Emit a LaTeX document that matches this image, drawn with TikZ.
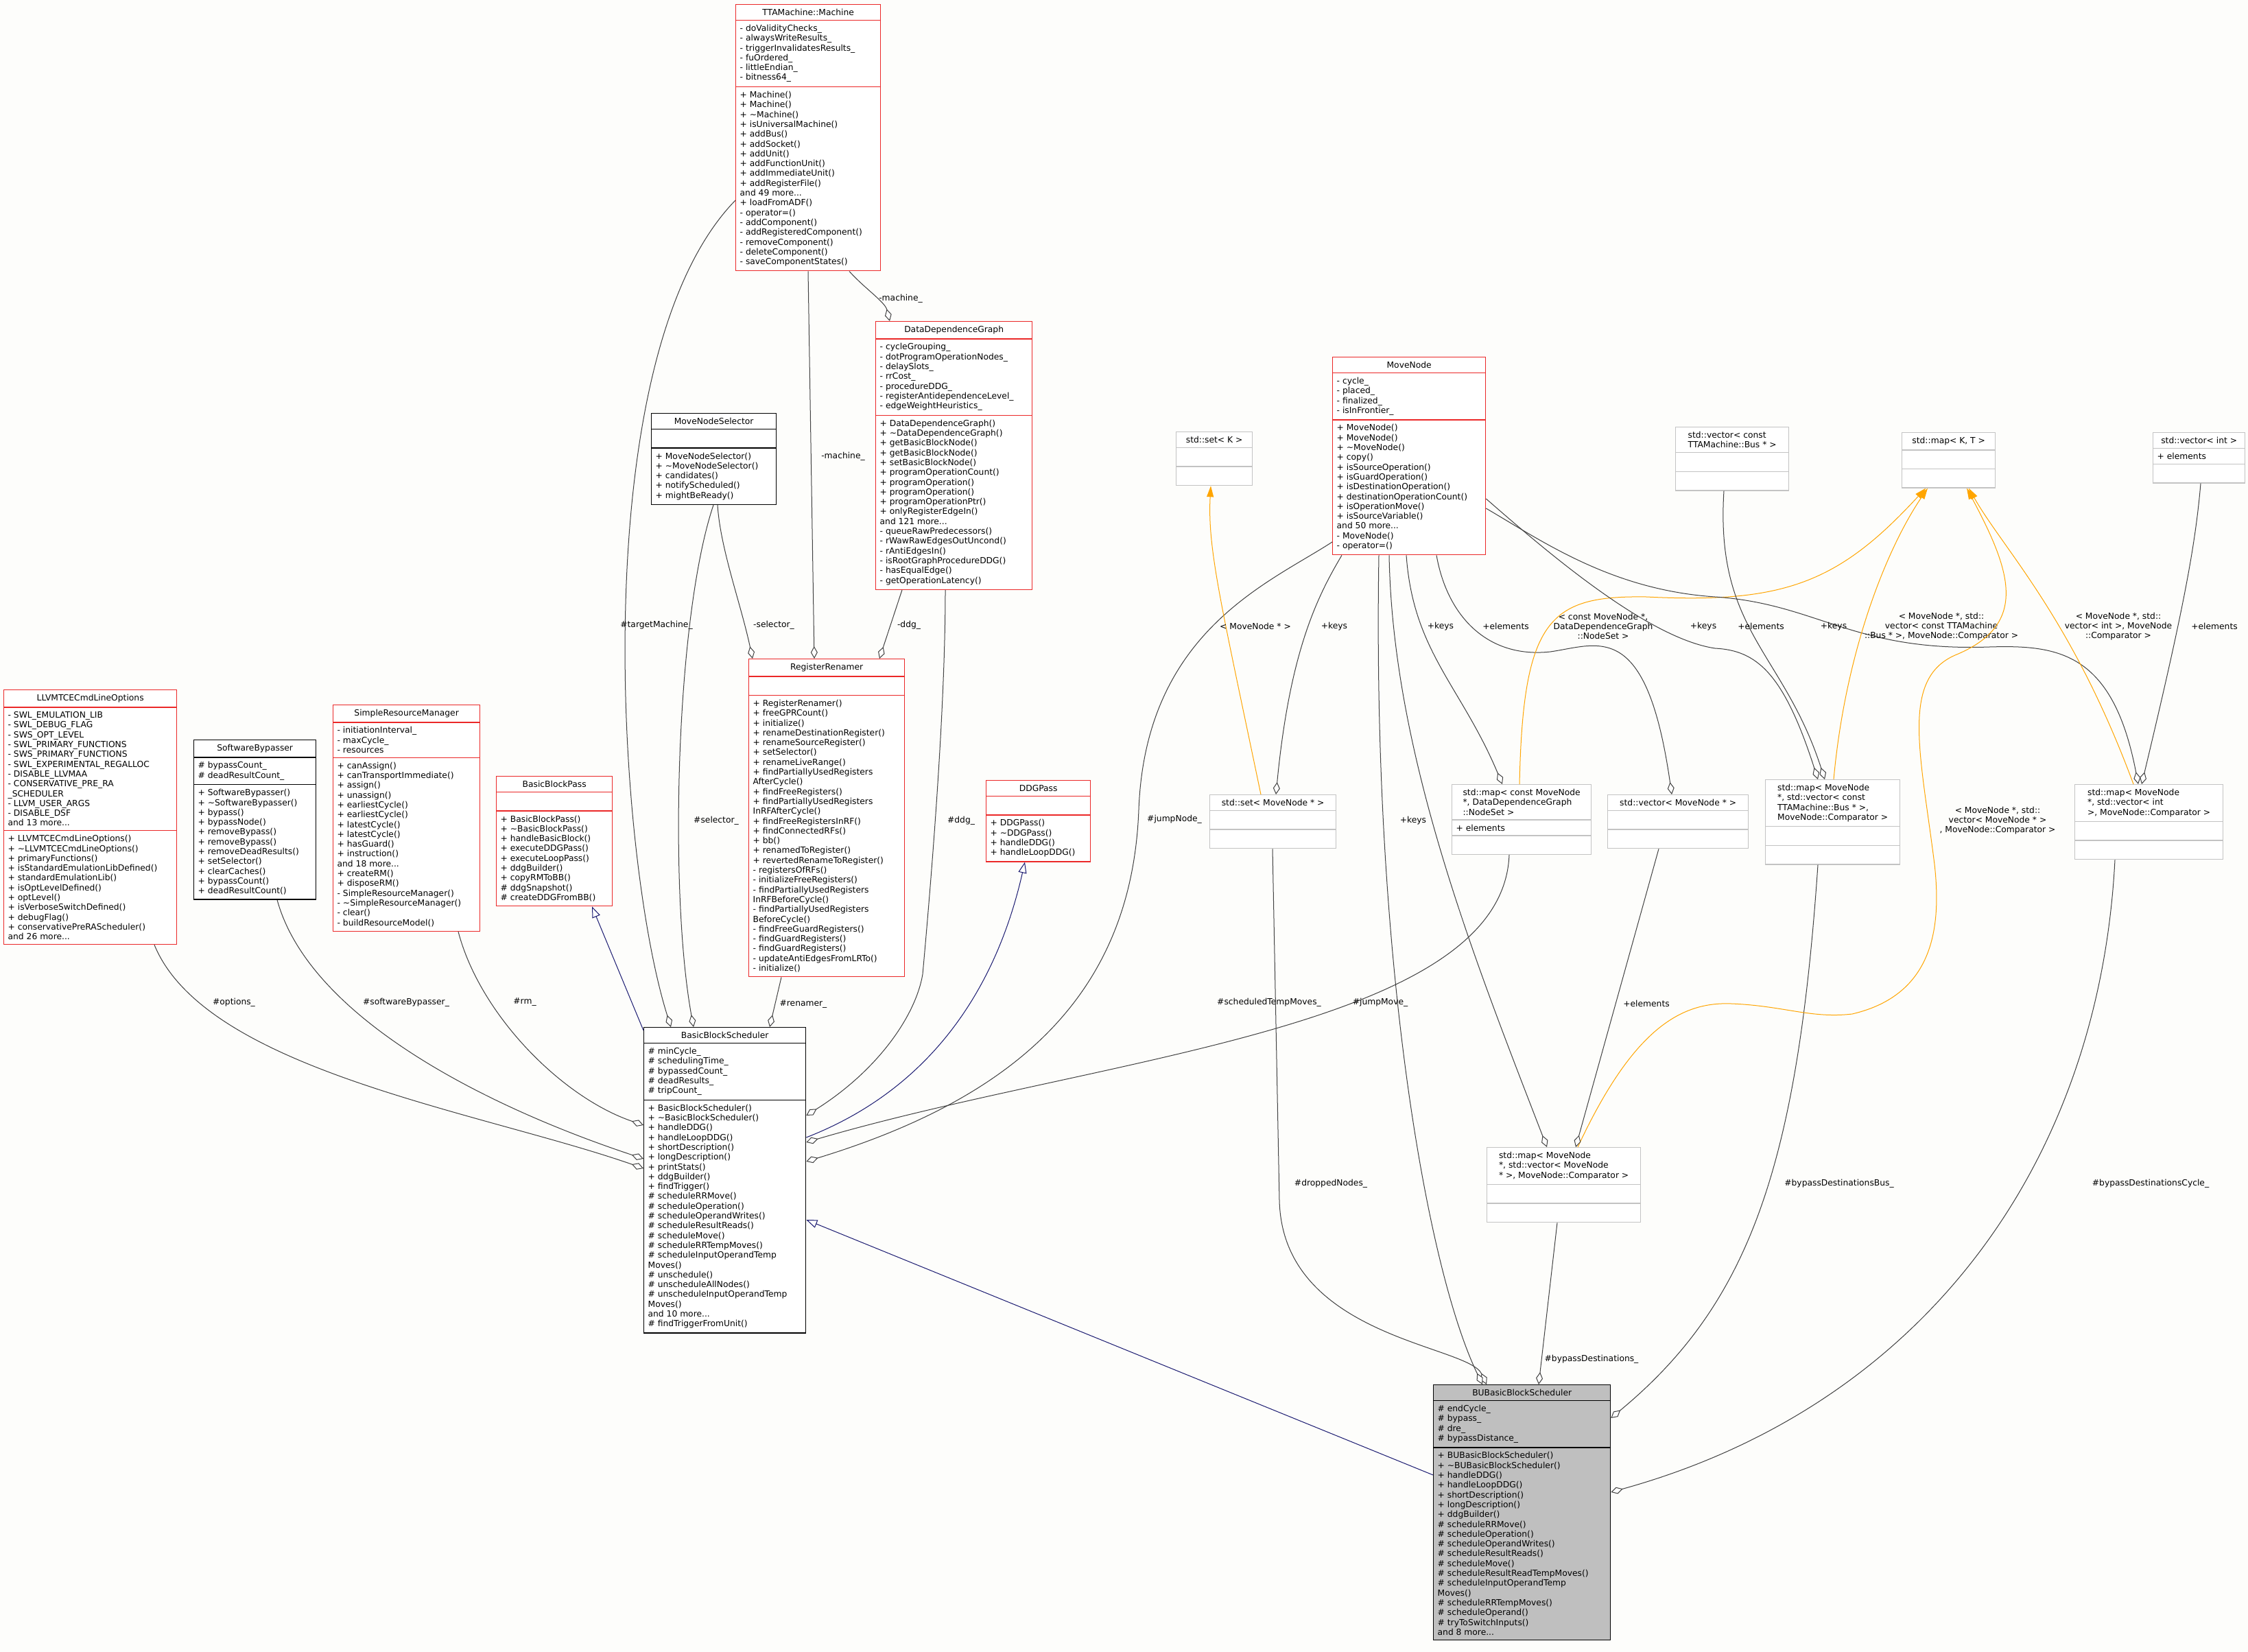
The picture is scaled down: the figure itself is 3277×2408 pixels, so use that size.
\documentclass[tikz,border=0pt]{standalone}
\usepackage{fontspec}
\setmainfont{DejaVu Sans}
\usetikzlibrary{shapes.multipart,arrows.meta,calc}
\definecolor{redline}{RGB}{235,40,40}
\definecolor{edgec}{RGB}{64,64,64}
\definecolor{navyc}{RGB}{25,25,112}
\definecolor{orangec}{RGB}{255,165,0}
\definecolor{bgc}{RGB}{253,253,251}
\definecolor{stdline}{RGB}{195,195,195}
\newcommand\emp{\mbox{}\strut}
\tikzset{
  cls/.style={rectangle split, rectangle split parts=3, draw=#1, line width=1.3pt,
    anchor=north west, inner xsep=6pt, inner ysep=6pt, align=left,
    rectangle split part align={center,left,left},
    font=\fontsize{12.3}{14.3}\selectfont, fill=white},
  agg/.style={draw=edgec, line width=1pt, {Diamond[open,length=18pt,width=10pt,fill=white]}-},
  inh/.style={draw=navyc, line width=1pt, -{Triangle[open,length=16pt,width=12pt,fill=white]}},
  tpl/.style={draw=orangec, line width=1pt, -{Triangle[length=16pt,width=10pt]}},
  lbl/.style={font=\fontsize{12.3}{14.3}\selectfont, align=center, inner sep=1pt}
}
\begin{document}
\begin{tikzpicture}[x=1pt,y=-1pt]
\fill[bgc] (0,0) rectangle (3277,2408);
\useasboundingbox (0,0) rectangle (3277,2408);

% ---------- classes ----------
\node[cls=redline, minimum width=211pt] (tta) at (1072,6) {TTAMachine::Machine\nodepart{second}- doValidityChecks\_\\- alwaysWriteResults\_\\- triggerInvalidatesResults\_\\- fuOrdered\_\\- littleEndian\_\\- bitness64\_\nodepart{third}+ Machine()\\+ Machine()\\+ \textasciitilde Machine()\\+ isUniversalMachine()\\+ addBus()\\+ addSocket()\\+ addUnit()\\+ addFunctionUnit()\\+ addImmediateUnit()\\+ addRegisterFile()\\and 49 more...\\+ loadFromADF()\\- operator=()\\- addComponent()\\- addRegisteredComponent()\\- removeComponent()\\- deleteComponent()\\- saveComponentStates()};

\node[cls=redline, minimum width=228pt] (ddg) at (1276,468) {DataDependenceGraph\nodepart{second}- cycleGrouping\_\\- dotProgramOperationNodes\_\\- delaySlots\_\\- rrCost\_\\- procedureDDG\_\\- registerAntidependenceLevel\_\\- edgeWeightHeuristics\_\nodepart{third}+ DataDependenceGraph()\\+ \textasciitilde DataDependenceGraph()\\+ getBasicBlockNode()\\+ getBasicBlockNode()\\+ setBasicBlockNode()\\+ programOperationCount()\\+ programOperation()\\+ programOperation()\\+ programOperationPtr()\\+ onlyRegisterEdgeIn()\\and 121 more...\\- queueRawPredecessors()\\- rWawRawEdgesOutUncond()\\- rAntiEdgesIn()\\- isRootGraphProcedureDDG()\\- hasEqualEdge()\\- getOperationLatency()};

\node[cls=redline, minimum width=223pt] (mn) at (1942,520) {MoveNode\nodepart{second}- cycle\_\\- placed\_\\- finalized\_\\- isInFrontier\_\nodepart{third}+ MoveNode()\\+ MoveNode()\\+ \textasciitilde MoveNode()\\+ copy()\\+ isSourceOperation()\\+ isGuardOperation()\\+ isDestinationOperation()\\+ destinationOperationCount()\\+ isOperationMove()\\+ isSourceVariable()\\and 50 more...\\- MoveNode()\\- operator=()};

\node[cls=black, minimum width=182pt] (mns) at (949,602) {MoveNodeSelector\nodepart{second}\emp\nodepart{third}+ MoveNodeSelector()\\+ \textasciitilde MoveNodeSelector()\\+ candidates()\\+ notifyScheduled()\\+ mightBeReady()};

\node[cls=redline, minimum width=227pt] (rr) at (1091,960) {RegisterRenamer\nodepart{second}\emp\nodepart{third}+ RegisterRenamer()\\+ freeGPRCount()\\+ initialize()\\+ renameDestinationRegister()\\+ renameSourceRegister()\\+ setSelector()\\+ renameLiveRange()\\+ findPartiallyUsedRegisters\\AfterCycle()\\+ findFreeRegisters()\\+ findPartiallyUsedRegisters\\InRFAfterCycle()\\+ findFreeRegistersInRF()\\+ findConnectedRFs()\\+ bb()\\+ renamedToRegister()\\+ revertedRenameToRegister()\\- registersOfRFs()\\- initializeFreeRegisters()\\- findPartiallyUsedRegisters\\InRFBeforeCycle()\\- findPartiallyUsedRegisters\\BeforeCycle()\\- findFreeGuardRegisters()\\- findGuardRegisters()\\- findGuardRegisters()\\- updateAntiEdgesFromLRTo()\\- initialize()};

\node[cls=redline, minimum width=152pt] (ddgp) at (1437,1137) {DDGPass\nodepart{second}\emp\nodepart{third}+ DDGPass()\\+ \textasciitilde DDGPass()\\+ handleDDG()\\+ handleLoopDDG()};

\node[cls=black, minimum width=236pt] (bbs) at (938,1497) {BasicBlockScheduler\nodepart{second}\# minCycle\_\\\# schedulingTime\_\\\# bypassedCount\_\\\# deadResults\_\\\# tripCount\_\nodepart{third}+ BasicBlockScheduler()\\+ \textasciitilde BasicBlockScheduler()\\+ handleDDG()\\+ handleLoopDDG()\\+ shortDescription()\\+ longDescription()\\+ printStats()\\+ ddgBuilder()\\+ findTrigger()\\\# scheduleRRMove()\\\# scheduleOperation()\\\# scheduleOperandWrites()\\\# scheduleResultReads()\\\# scheduleMove()\\\# scheduleRRTempMoves()\\\# scheduleInputOperandTemp\\Moves()\\\# unschedule()\\\# unscheduleAllNodes()\\\# unscheduleInputOperandTemp\\Moves()\\and 10 more...\\\# findTriggerFromUnit()};

\node[cls=redline, minimum width=169pt] (bbp) at (723,1131) {BasicBlockPass\nodepart{second}\emp\nodepart{third}+ BasicBlockPass()\\+ \textasciitilde BasicBlockPass()\\+ handleBasicBlock()\\+ executeDDGPass()\\+ executeLoopPass()\\+ ddgBuilder()\\+ copyRMToBB()\\\# ddgSnapshot()\\\# createDDGFromBB()};

\node[cls=redline, minimum width=214pt] (srm) at (485,1027) {SimpleResourceManager\nodepart{second}- initiationInterval\_\\- maxCycle\_\\- resources\nodepart{third}+ canAssign()\\+ canTransportImmediate()\\+ assign()\\+ unassign()\\+ earliestCycle()\\+ earliestCycle()\\+ latestCycle()\\+ latestCycle()\\+ hasGuard()\\+ instruction()\\and 18 more...\\+ createRM()\\+ disposeRM()\\- SimpleResourceManager()\\- \textasciitilde SimpleResourceManager()\\- clear()\\- buildResourceModel()};

\node[cls=black, minimum width=178pt] (sb) at (282,1078) {SoftwareBypasser\nodepart{second}\# bypassCount\_\\\# deadResultCount\_\nodepart{third}+ SoftwareBypasser()\\+ \textasciitilde SoftwareBypasser()\\+ bypass()\\+ bypassNode()\\+ removeBypass()\\+ removeBypass()\\+ removeDeadResults()\\+ setSelector()\\+ clearCaches()\\+ bypassCount()\\+ deadResultCount()};

\node[cls=redline, minimum width=252pt] (llvm) at (5,1005) {LLVMTCECmdLineOptions\nodepart{second}- SWL\_EMULATION\_LIB\\- SWL\_DEBUG\_FLAG\\- SWS\_OPT\_LEVEL\\- SWL\_PRIMARY\_FUNCTIONS\\- SWS\_PRIMARY\_FUNCTIONS\\- SWL\_EXPERIMENTAL\_REGALLOC\\- DISABLE\_LLVMAA\\- CONSERVATIVE\_PRE\_RA\\\_SCHEDULER\\- LLVM\_USER\_ARGS\\- DISABLE\_DSF\\and 13 more...\nodepart{third}+ LLVMTCECmdLineOptions()\\+ \textasciitilde LLVMTCECmdLineOptions()\\+ primaryFunctions()\\+ isStandardEmulationLibDefined()\\+ standardEmulationLib()\\+ isOptLevelDefined()\\+ optLevel()\\+ isVerboseSwitchDefined()\\+ debugFlag()\\+ conservativePreRAScheduler()\\and 26 more...};

\node[cls=black, minimum width=258pt, fill=black!25] (bu) at (2089,2018) {BUBasicBlockScheduler\nodepart{second}\# endCycle\_\\\# bypass\_\\\# dre\_\\\# bypassDistance\_\nodepart{third}+ BUBasicBlockScheduler()\\+ \textasciitilde BUBasicBlockScheduler()\\+ handleDDG()\\+ handleLoopDDG()\\+ shortDescription()\\+ longDescription()\\+ ddgBuilder()\\\# scheduleRRMove()\\\# scheduleOperation()\\\# scheduleOperandWrites()\\\# scheduleResultReads()\\\# scheduleMove()\\\# scheduleResultReadTempMoves()\\\# scheduleInputOperandTemp\\Moves()\\\# scheduleRRTempMoves()\\\# scheduleOperand()\\\# tryToSwitchInputs()\\and 8 more...};

% std templates
\node[cls=stdline, minimum width=111pt] (setk) at (1714,629) {std::set< K >\nodepart{second}\emp\nodepart{third}\emp};
\node[cls=stdline, minimum width=165pt] (vbus) at (2442,622) {std::vector< const\\TTAMachine::Bus * >\nodepart{second}\emp\nodepart{third}\emp};
\node[cls=stdline, minimum width=136pt] (mapkt) at (2772,630) {std::map< K, T >\nodepart{second}\emp\nodepart{third}\emp};
\node[cls=stdline, minimum width=134pt] (vint) at (3138,630) {std::vector< int >\nodepart{second}+ elements\nodepart{third}\emp};
\node[cls=stdline, minimum width=184pt] (setmn) at (1763,1158) {std::set< MoveNode * >\nodepart{second}\emp\nodepart{third}\emp};
\node[cls=stdline, minimum width=203pt] (mapns) at (2116,1143) {std::map< const MoveNode\\*, DataDependenceGraph\\::NodeSet >\nodepart{second}+ elements\nodepart{third}\emp};
\node[cls=stdline, minimum width=205pt] (vmn) at (2343,1158) {std::vector< MoveNode * >\nodepart{second}\emp\nodepart{third}\emp};
\node[cls=stdline, minimum width=196pt] (mapbus) at (2573,1136) {std::map< MoveNode\\*, std::vector< const\\TTAMachine::Bus * >,\\MoveNode::Comparator >\nodepart{second}\emp\nodepart{third}\emp};
\node[cls=stdline, minimum width=216pt] (mapint) at (3024,1143) {std::map< MoveNode\\*, std::vector< int\\>, MoveNode::Comparator >\nodepart{second}\emp\nodepart{third}\emp};
\node[cls=stdline, minimum width=224pt] (mapmn) at (2167,1672) {std::map< MoveNode\\*, std::vector< MoveNode\\* >, MoveNode::Comparator >\nodepart{second}\emp\nodepart{third}\emp};

% ---------- edges ----------
\draw[agg] ($(bbs.north west)+(40,0)$) .. controls (900,1250) and (850,520) .. ($(tta.north west)+(0,286)$);
\node[lbl] (l1) at (957,911) {\#targetMachine\_};
\draw[agg] ($(ddg.north west)+(21,0)$) .. controls (1290,440) and (1260,420) .. ($(tta.south west)+(166,0)$);
\node[lbl] (l2) at (1313,435) {-machine\_};
\draw[agg] ($(rr.north west)+(96,0)$) -- ($(tta.south west)+(106,0)$);
\node[lbl] (l3) at (1229,665) {-machine\_};
\draw[agg] ($(bbs.north west)+(73,0)$) .. controls (975,1300) and (985,900) .. ($(mns.south west)+(91,0)$);
\node[lbl] (l4) at (1044,1196) {\#selector\_};
\draw[agg] ($(rr.north west)+(6,0)$) .. controls (1080,880) and (1050,800) .. ($(mns.south west)+(97,0)$);
\node[lbl] (l5) at (1128,911) {-selector\_};
\draw[agg] ($(rr.north west)+(191,0)$) -- ($(ddg.south west)+(39,0)$);
\node[lbl] (l6) at (1325,911) {-ddg\_};
\draw[agg] ($(bbs.north east)+(0,129)$) .. controls (1280,1560) and (1335,1480) .. (1345,1420) .. controls (1365,1200) and (1378,1000) .. ($(ddg.south west)+(102,0)$);
\node[lbl] (l7) at (1401,1196) {\#ddg\_};
\draw[agg] ($(bbs.north west)+(184,0)$) -- ($(rr.south west)+(48,0)$);
\node[lbl] (l8) at (1171,1464) {\#renamer\_};
\draw[agg] ($(bbs.north west)+(0,206)$) .. controls (700,1620) and (300,1560) .. ($(llvm.south west)+(220,0)$);
\node[lbl] (l9) at (341,1461) {\#options\_};
\draw[agg] ($(bbs.north west)+(0,192)$) .. controls (700,1610) and (450,1480) .. ($(sb.south west)+(122,0)$);
\node[lbl] (l10) at (592,1461) {\#softwareBypasser\_};
\draw[agg] ($(bbs.north west)+(0,143)$) .. controls (820,1600) and (700,1480) .. ($(srm.south west)+(183,0)$);
\node[lbl] (l11) at (765,1461) {\#rm\_};
\draw[inh] ($(bbs.north west)+(0,5)$) -- ($(bbp.south west)+(140,0)$);
\draw[inh] ($(bbs.north east)+(0,161)$) .. controls (1350,1590) and (1450,1450) .. ($(ddgp.south west)+(57,0)$);
\draw[inh] ($(bu.north west)+(0,132)$) -- ($(bbs.north east)+(0,281)$);
\draw[agg] ($(bbs.north east)+(0,196)$) .. controls (1480,1600) and (1650,1450) .. (1660,1180) .. controls (1670,920) and (1850,850) .. ($(mn.north west)+(0,270)$);
\node[lbl] (l15) at (1712,1194) {\#jumpNode\_};
\draw[agg] ($(bbs.north east)+(0,168)$) .. controls (1600,1540) and (2190,1500) .. ($(mapns.south west)+(84,0)$);
\node[lbl] (l16) at (1850,1461) {\#scheduledTempMoves\_};
\draw[agg] ($(bu.north west)+(78,0)$) .. controls (2140,1960) and (1870,1950) .. (1865,1750) -- ($(setmn.south west)+(92,0)$);
\node[lbl] (l17) at (1940,1725) {\#droppedNodes\_};
\draw[agg] ($(bu.north west)+(72,0)$) .. controls (2080,1850) and (2000,1400) .. ($(mn.south west)+(68,0)$);
\node[lbl] (l18) at (2012,1461) {\#jumpMove\_};
\draw[agg] ($(bu.north west)+(154,0)$) -- ($(mapmn.south west)+(103,0)$);
\node[lbl] (l19) at (2320,1981) {\#bypassDestinations\_};
\draw[agg] ($(bu.north east)+(0,49)$) .. controls (2550,1900) and (2620,1700) .. ($(mapbus.south west)+(77,0)$);
\node[lbl] (l20) at (2681,1725) {\#bypassDestinationsBus\_};
\draw[agg] ($(bu.north east)+(0,157)$) .. controls (2800,2050) and (3060,1700) .. ($(mapint.south west)+(59,0)$);
\node[lbl] (l21) at (3135,1725) {\#bypassDestinationsCycle\_};

\draw[tpl] ($(setmn.north west)+(75,0)$) .. controls (1780,880) and (1760,800) .. ($(setk.south west)+(51,0)$);
\node[lbl] (l22) at (1830,913) {< MoveNode * >};
\draw[agg] ($(setmn.north west)+(97,0)$) .. controls (1880,950) and (1920,870) .. ($(mn.south west)+(14,0)$);
\node[lbl] (l23) at (1945,913) {+keys};
\draw[agg] ($(mapns.north west)+(74,0)$) .. controls (2130,1000) and (2060,950) .. ($(mn.south west)+(108,0)$);
\node[lbl] (l24) at (2100,913) {+keys};
\draw[agg] ($(vmn.north west)+(94,0)$) .. controls (2400,900) and (2330,940) .. (2260,950) .. controls (2170,960) and (2110,900) .. ($(mn.south west)+(152,0)$);
\node[lbl] (l25) at (2195,913) {+elements};
\draw[tpl] ($(mapns.north west)+(99,0)$) .. controls (2220,900) and (2260,868) .. (2400,870) .. controls (2600,880) and (2680,850) .. ($(mapkt.south west)+(35,0)$);
\node[lbl] (l26) at (2337,913) {< const MoveNode *,\\DataDependenceGraph\\::NodeSet >};
\draw[agg] ($(mapbus.north west)+(77,0)$) .. controls (2600,980) and (2560,948) .. (2500,945) .. controls (2400,930) and (2250,800) .. ($(mn.north east)+(0,207)$);
\node[lbl] (l27) at (2483,913) {+keys};
\draw[agg] ($(mapbus.north west)+(87,0)$) .. controls (2600,950) and (2500,920) .. ($(vbus.south west)+(71,0)$);
\node[lbl] (l28) at (2567,913) {+elements};
\draw[agg] ($(mapint.north west)+(93,0)$) .. controls (3080,950) and (3000,940) .. (2900,943) .. controls (2700,950) and (2650,880) .. (2500,870) .. controls (2350,860) and (2250,790) .. ($(mn.north east)+(0,221)$);
\node[lbl] (l29) at (2673,913) {+keys};
\draw[tpl] ($(mapbus.north west)+(100,0)$) .. controls (2690,950) and (2750,800) .. ($(mapkt.south west)+(38,0)$);
\node[lbl] (l30) at (2830,913) {< MoveNode *, std::\\vector< const TTAMachine\\::Bus * >, MoveNode::Comparator >};
\draw[tpl] ($(mapint.north west)+(86,0)$) .. controls (3020,900) and (2920,800) .. ($(mapkt.south west)+(98,0)$);
\node[lbl] (l31) at (3088,913) {< MoveNode *, std::\\vector< int >, MoveNode\\::Comparator >};
\draw[agg] ($(mapint.north west)+(98,0)$) .. controls (3180,900) and (3200,800) .. ($(vint.south west)+(70,0)$);
\node[lbl] (l32) at (3228,913) {+elements};
\draw[tpl] ($(mapmn.north west)+(133,0)$) .. controls (2380,1500) and (2450,1460) .. (2524,1463) .. controls (2600,1466) and (2640,1485) .. (2700,1478) .. controls (2820,1450) and (2830,1350) .. (2820,1260) .. controls (2800,1100) and (2770,990) .. (2850,955) .. controls (2960,910) and (2930,830) .. ($(mapkt.south west)+(95,0)$);
\node[lbl] (l33) at (2912,1196) {< MoveNode *, std::\\vector< MoveNode * >\\, MoveNode::Comparator >};
\draw[agg] ($(mapmn.north west)+(130,0)$) -- ($(vmn.south west)+(75,0)$);
\node[lbl] (l34) at (2400,1463) {+elements};
\draw[agg] ($(mapmn.north west)+(88,0)$) .. controls (2150,1400) and (2030,1100) .. ($(mn.south west)+(83,0)$);
\node[lbl] (l35) at (2060,1196) {+keys};
\end{tikzpicture}
\end{document}
